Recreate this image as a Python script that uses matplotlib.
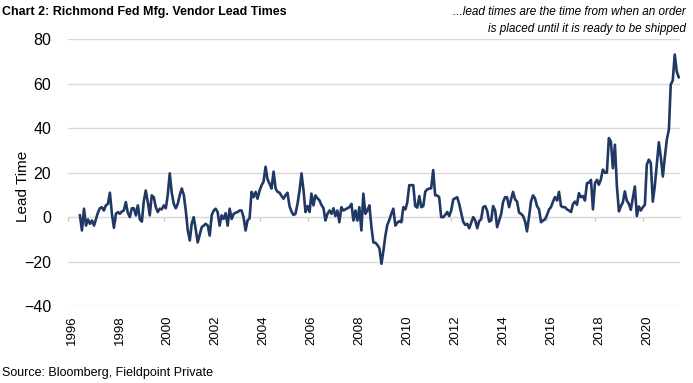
import numpy as np
import pandas as pd
import matplotlib
matplotlib.use("Agg")
import matplotlib.pyplot as plt
import matplotlib.dates as mdates
import matplotlib.transforms as mtransforms
from datetime import datetime

# Richmond Fed manufacturing survey - vendor lead time, monthly from Jul 1996
start_month = "1996-07-01"
lead_time = [
    0.8, -6, 3.8, -3.8, -1, -3, -1.5, -3.8, -1, 2,
    4, 4.5, 3, 5.3, 6, 11, 1.5, -4.8, 1.5, 2.3,
    1.5, 2.5, 3, 6.8, 2, 0, 4, 4, 0.8, 5.3,
    -1, -2, 7, 12, 7, 0.8, 9.8, 9, 4.5, 2.3,
    3.8, 3.5, 5.3, 4, 10, 19.7, 11, 6, 4, 6,
    10, 12.9, 10, 3, -6, -10.5, -3, 0, -5.3, -11.4,
    -8, -4.5, -3.8, -3, -3.8, -8.3, 1, 3, 3.8, 2.3,
    -3.8, 0.8, -0.8, 1.8, -3.8, 3.8, -0.8, 1.5, 2, 2.3,
    3, 3, 0, -6, -1.5, -0.5, 11.4, 9, 11.4, 8.3,
    12, 14.4, 16, 22.7, 17, 15, 12.9, 20.5, 12.9, 11.4,
    11, 9.5, 8.3, 10, 11, 5, 2.5, 1, 1.5, 6,
    12, 19.7, 12, 2.3, 5, 2.3, 10.6, 5.3, 9.8, 8.5,
    7.6, 5.5, 4, -1.5, 1.5, 3, 1.5, 4, 0.5, 3,
    -2.3, 4.5, 3, 3.5, 4, 4.5, 6, -1.5, 3, -1.5,
    4.5, -6, 10.6, 1.5, 3, 5.3, -4.5, -11.4, -11.5, -12.5,
    -14, -21, -15.5, -8.5, -3.5, -1.3, 1.5, 3.8, -3.8, -2.5,
    -1.8, -2.3, 4.5, 3.5, 6.5, 14.4, 14.4, 14.4, 5, 4.3,
    9.5, 4.5, 5, 11.5, 12.5, 12.9, 13, 21.2, 9.8, 9.8,
    9, 0, 0, 1, 2.3, 0.5, 3, 8, 8.5, 9,
    6, 2, -2, -3.5, -3, -5, -2.5, 0, -1.5, -5,
    -1.8, -1, 4.5, 5, 3, -2, -1.5, 5, 3, -4.5,
    -1.5, 1.5, 6.8, 9, 9, 4.5, 8, 11.4, 8, 7,
    2, 1.5, 0.5, -2, -6.4, 0, 7, 9.8, 8.5, 5,
    3.5, -2.3, -1.5, -1, 1, 3.5, 4.5, 7, 9, 7.5,
    11.4, 5, 4.5, 4.5, 3.5, 3, 2.3, 6, 7, 5.6,
    10.8, 9, 9.5, 7.5, 15.3, 15.5, 16.8, 3.5, 15.3, 16.8,
    14.6, 17, 21.4, 20, 20, 35.6, 34, 22, 32.6, 14,
    2.6, 5, 6.5, 11.6, 7.5, 6, 3.3, 8.5, 13.8, 0.5,
    4.8, 3, 4.5, 5.6, 23.6, 25.9, 24.4, 7, 14, 24,
    33.7, 27, 18.3, 27, 35, 39.4, 59.7, 61.5, 73.2, 65.5,
    63,
]
tick_years = list(range(1996, 2021, 2))
y_ticks = [-40, -20, 0, 20, 40, 60, 80]

dates = pd.date_range(start_month, periods=len(lead_time), freq="MS")

font = ["Liberation Sans", "DejaVu Sans"]
plt.rcParams["font.family"] = font

fig = plt.figure(figsize=(6.93, 3.83), dpi=100)
ax = fig.add_axes([0.0981, 0.201, 0.8831, 0.696])

ax.plot(dates, lead_time, color="#203864", linewidth=1.9, zorder=3)

ax.set_ylim(-40, 80)
ax.set_xlim(datetime(1996, 1, 1), datetime(2021, 7, 20))
ax.set_yticks(y_ticks)
ax.grid(axis="y", color="#d9d9d9", linewidth=1.0)
ax.set_axisbelow(True)

for side in ["top", "right", "left"]:
    ax.spines[side].set_visible(False)
ax.spines["bottom"].set_position(("data", 0))
ax.spines["bottom"].set_color("#d9d9d9")

tick_pos = [mdates.date2num(datetime(y, 1, 1)) for y in tick_years]
ax.set_xticks(tick_pos)
ax.tick_params(axis="x", length=3, color="#c8c8c8", labelbottom=False)
ax.tick_params(axis="y", length=0, pad=12, labelsize=11.5)

sec = ax.secondary_xaxis("bottom")
sec.set_xticks(tick_pos, labels=[str(y) for y in tick_years])
sec.tick_params(length=0, pad=7, labelsize=9.5, labelrotation=90)
sec.spines["bottom"].set_visible(False)
shift = mtransforms.ScaledTranslation(4 / 100, 0, fig.dpi_scale_trans)
for lbl in sec.get_xticklabels():
    lbl.set_transform(lbl.get_transform() + shift)

ax.set_ylabel("Lead Time", fontsize=11)
ax.yaxis.set_label_coords(-0.062, 0.45)

fig.text(0.003, 0.968, "Chart 2: Richmond Fed Mfg. Vendor Lead Times",
         fontsize=9, fontweight="bold", va="center", ha="left")
fig.text(0.99, 0.968, "...lead times are the time from when an order",
         fontsize=8.5, style="italic", va="center", ha="right")
fig.text(0.99, 0.925, "is placed until it is ready to be shipped",
         fontsize=8.5, style="italic", va="center", ha="right")
fig.text(0.003, 0.025, "Source: Bloomberg, Fieldpoint Private",
         fontsize=9, va="center", ha="left")

fig.savefig("out.png", dpi=100)
